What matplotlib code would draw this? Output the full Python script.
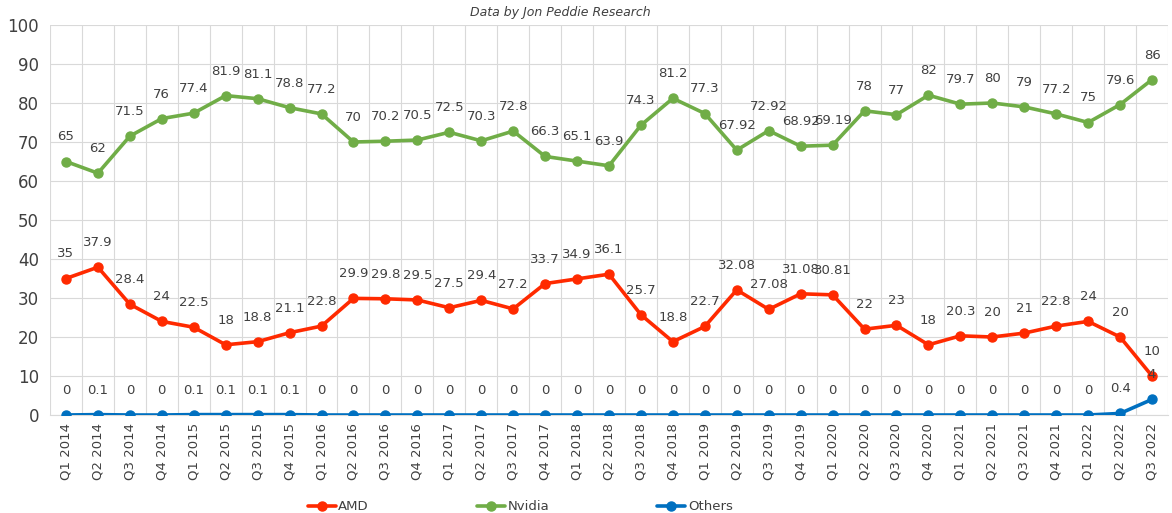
import matplotlib.pyplot as plt

quarters = ["Q1 2014", "Q2 2014", "Q3 2014", "Q4 2014",
            "Q1 2015", "Q2 2015", "Q3 2015", "Q4 2015",
            "Q1 2016", "Q2 2016", "Q3 2016", "Q4 2016",
            "Q1 2017", "Q2 2017", "Q3 2017", "Q4 2017",
            "Q1 2018", "Q2 2018", "Q3 2018", "Q4 2018",
            "Q1 2019", "Q2 2019", "Q3 2019", "Q4 2019",
            "Q1 2020", "Q2 2020", "Q3 2020", "Q4 2020",
            "Q1 2021", "Q2 2021", "Q3 2021", "Q4 2021",
            "Q1 2022", "Q2 2022", "Q3 2022"]

nvidia = [65, 62, 71.5, 76, 77.4, 81.9, 81.1, 78.8, 77.2, 70, 70.2, 70.5,
          72.5, 70.3, 72.8, 66.3, 65.1, 63.9, 74.3, 81.2, 77.3, 67.92, 72.92,
          68.92, 69.19, 78, 77, 82, 79.7, 80, 79, 77.2, 75, 79.6, 86]
amd = [35, 37.9, 28.4, 24, 22.5, 18, 18.8, 21.1, 22.8, 29.9, 29.8, 29.5,
       27.5, 29.4, 27.2, 33.7, 34.9, 36.1, 25.7, 18.8, 22.7, 32.08, 27.08,
       31.08, 30.81, 22, 23, 18, 20.3, 20, 21, 22.8, 24, 20, 10]
others = [0, 0.1, 0, 0, 0.1, 0.1, 0.1, 0.1, 0, 0, 0, 0,
          0, 0, 0, 0, 0, 0, 0, 0, 0, 0, 0,
          0, 0, 0, 0, 0, 0, 0, 0, 0, 0, 0.4, 4]

fig = plt.figure(figsize=(11.72, 5.13), dpi=100)
ax = fig.add_axes([50 / 1172, 1 - 415 / 513, 1118 / 1172, 390 / 513])

txt = "#404040"
x = list(range(len(quarters)))
series = [("AMD", amd, "#FF2A00"), ("Nvidia", nvidia, "#70AD47"),
          ("Others", others, "#0070C0")]
for name, vals, col in series:
    ax.plot(x, vals, color=col, lw=2.6, marker="o", ms=6.5, label=name,
            solid_capstyle="round", zorder=3)
    for xi, v in zip(x, vals):
        ax.annotate(f"{v:g}", (xi, v), xytext=(0, 13), textcoords="offset points",
                    ha="center", va="bottom", fontsize=9.5, color=txt)

ax.set_xlim(-0.5, len(quarters) - 0.5)
ax.set_ylim(0, 100)
ax.set_yticks(range(0, 101, 10))
ax.set_xticks(x)
ax.set_xticklabels(quarters, rotation=90, fontsize=9.5, color=txt)
ax.tick_params(axis="y", labelsize=12, labelcolor=txt, length=0, pad=8)
ax.tick_params(axis="x", length=0, pad=6)

# Excel-style gridlines between categories
ax.set_xticks([i - 0.5 for i in range(len(quarters) + 1)], minor=True)
ax.grid(which="minor", axis="x", color="#D9D9D9", lw=0.8)
ax.grid(which="major", axis="y", color="#D9D9D9", lw=0.8)
ax.tick_params(which="minor", length=0)
ax.set_axisbelow(True)
for s in ["top", "right", "left"]:
    ax.spines[s].set_visible(False)
ax.spines["bottom"].set_color("#D9D9D9")

fig.text(0.478, 0.975, "Data by Jon Peddie Research", ha="center", va="center",
         fontsize=9, style="italic", color=txt)

fig.legend(loc="center", bbox_to_anchor=(0.444, 0.012), ncol=3, frameon=False,
           fontsize=9.5, columnspacing=8.2, handlelength=2.1, labelcolor=txt,
           handletextpad=0.2)

fig.savefig("out.png", dpi=100)
